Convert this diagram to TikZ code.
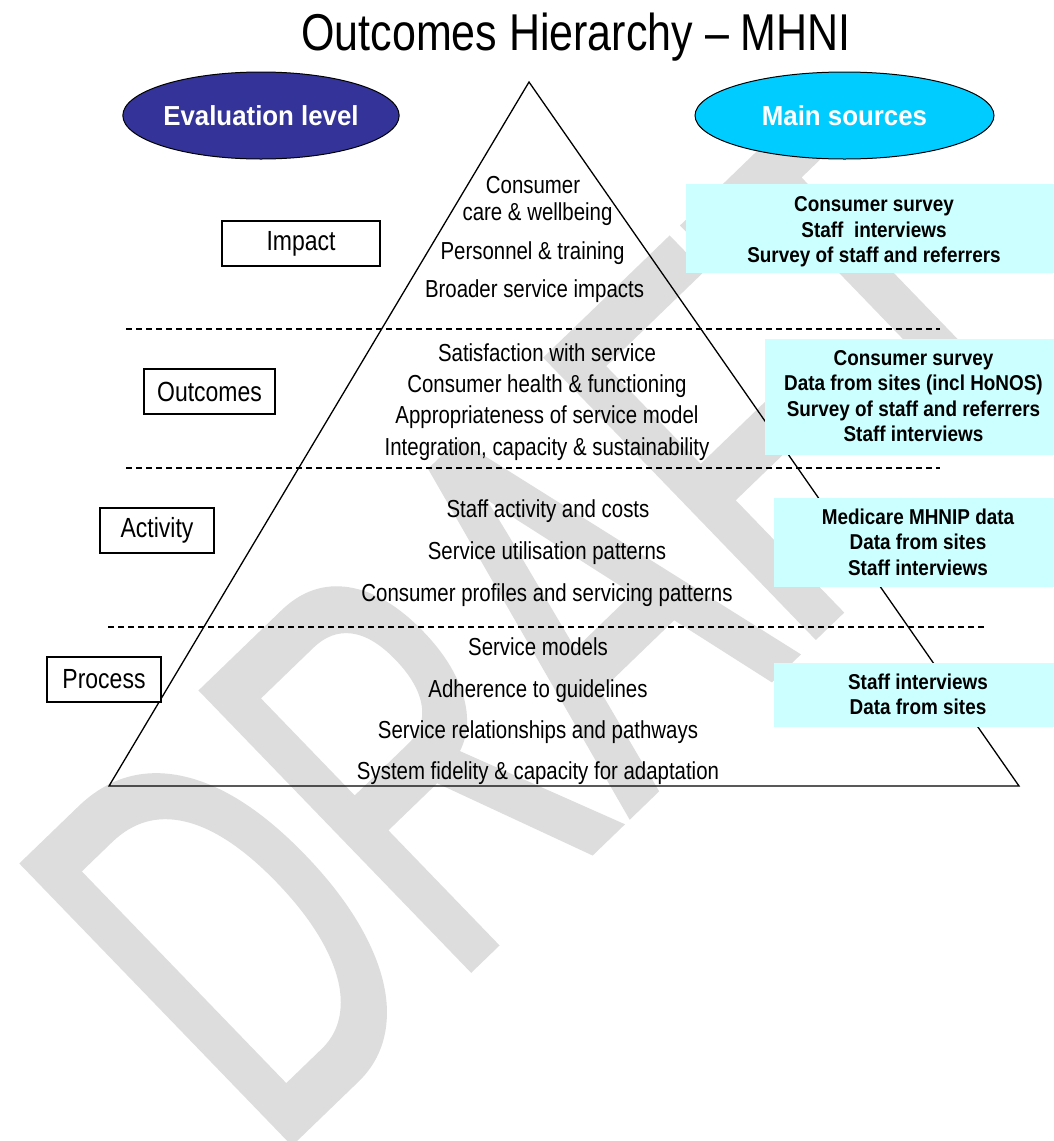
\documentclass[tikz,border=0pt]{standalone}
\usepackage{fontspec}
\setmainfont{Liberation Sans}
\newfontfamily\regf[FakeStretch=0.83]{Liberation Sans}
\newfontfamily\srcf[FakeStretch=0.88]{Liberation Sans}
\newfontfamily\elf[FakeStretch=0.94]{Liberation Sans}
\newfontfamily\wmf[FakeStretch=0.616, FakeBold=1.3]{Liberation Sans}
\usetikzlibrary{shapes.geometric}
\definecolor{evalblue}{HTML}{333399}
\definecolor{srccyan}{HTML}{00CCFF}
\definecolor{srcbg}{HTML}{CCFFFF}
\definecolor{wmgray}{HTML}{DDDDDD}
\newcommand{\srclines}[2]{\raisebox{-#1}[\height][\depth]{\begin{tabular}{@{}c@{}}#2\end{tabular}}}
\tikzset{
  tri/.style={draw=black, line width=1.3pt},
  sepline/.style={draw=black, line width=1.1pt, dash pattern=on 6pt off 4pt},
  lvl/.style={draw=black, line width=1.1pt, fill=white, minimum height=45pt, inner sep=0pt, font=\regf\fontsize{27.7}{32}\selectfont},
  hdr/.style={ellipse, draw=black, line width=1pt, minimum width=270pt, minimum height=87pt, inner sep=0pt, text=white, font=\elf\bfseries\fontsize{27.5}{32}\selectfont},
  src/.style={fill=srcbg, inner sep=0pt, font=\srcf\bfseries\fontsize{21.5}{25.5}\selectfont},
  item/.style={anchor=base, inner sep=0pt, font=\regf\fontsize{24.6}{28}\selectfont},
  wmark/.style={rotate=44, anchor=base west, inner sep=0pt, text=wmgray, font=\wmf\fontsize{560}{560}\selectfont},
}
\begin{document}
\begin{tikzpicture}[x=1pt,y=-1pt]
\useasboundingbox (0,0) rectangle (1054,1141);
\fill[white] (0,0) rectangle (1054,1141);
% watermark
\node[wmark] (wm) at (271.6,1160.5) {DRAFT};
% title
\node[anchor=base east, inner sep=0pt, font=\regf\fontsize{51.8}{56}\selectfont] (title) at (851,50) {Outcomes Hierarchy – MHNI};
% triangle
\coordinate (apex) at (529,82);
\coordinate (bl) at (109,786);
\coordinate (br) at (1019,786);
% dashed separators
\coordinate (s1a) at (126,329); \coordinate (s1b) at (940,329);
\coordinate (s2a) at (126,468); \coordinate (s2b) at (940,468);
\coordinate (s3a) at (108,627); \coordinate (s3b) at (985,627);
\draw[sepline] (s1a) -- (s1b);
\draw[sepline] (s2a) -- (s2b);
\draw[sepline] (s3a) -- (s3b);
\draw[tri] (apex) -- (bl) -- (br) -- cycle;
% headers
\node[hdr, fill=evalblue] (evl) at (261,115.5) {Evaluation level};
\node[hdr, fill=srccyan, minimum width=299pt] (mains) at (844.5,115.5) {Main sources};
% level boxes
\node[lvl, minimum width=158pt] (impact) at (301,243.5) {Impact};
\node[lvl, minimum width=131pt] (outc) at (209.5,391.5) {Outcomes};
\node[lvl, minimum width=114pt] (activ) at (157,530.5) {Activity};
\node[lvl, minimum width=114pt] (proc) at (104,679.5) {Process};
% source boxes
\node[src, minimum width=376pt, minimum height=89pt] (src1) at (874,228.5) {\srclines{3.5pt}{Consumer survey\\Staff\ \ interviews\\Survey of staff and referrers}};
\node[src, minimum width=297pt, minimum height=116pt] (src2) at (913.5,397) {\srclines{1.5pt}{Consumer survey\\Data from sites (incl HoNOS)\\Survey of staff and referrers\\Staff interviews}};
\node[src, minimum width=288pt, minimum height=89pt] (src3) at (918,542.5) {\srclines{2pt}{Medicare MHNIP data\\Data from sites\\Staff interviews}};
\node[src, minimum width=288pt, minimum height=64pt] (src4) at (918,695) {\srclines{2pt}{Staff interviews\\Data from sites}};
% pyramid items
\node[item] (i1) at (533,193) {Consumer};
\node[item] (i2) at (537.5,220) {care \& wellbeing};
\node[item] (i3) at (532.5,259) {Personnel \& training};
\node[item] (i4) at (534.5,297) {Broader service impacts};
\node[item] (o1) at (547,361) {Satisfaction with service};
\node[item] (o2) at (547,392) {Consumer health \& functioning};
\node[item] (o3) at (547,423) {Appropriateness of service model};
\node[item] (o4) at (547,455) {Integration, capacity \& sustainability};
\node[item] (a1) at (548,517) {Staff activity and costs};
\node[item] (a2) at (547,559) {Service utilisation patterns};
\node[item] (a3) at (547,601) {Consumer profiles and servicing patterns};
\node[item] (p1) at (538,655) {Service models};
\node[item] (p2) at (538,697) {Adherence to guidelines};
\node[item] (p3) at (538,738) {Service relationships and pathways};
\node[item] (p4) at (538,779) {System fidelity \& capacity for adaptation};
\end{tikzpicture}
\end{document}
